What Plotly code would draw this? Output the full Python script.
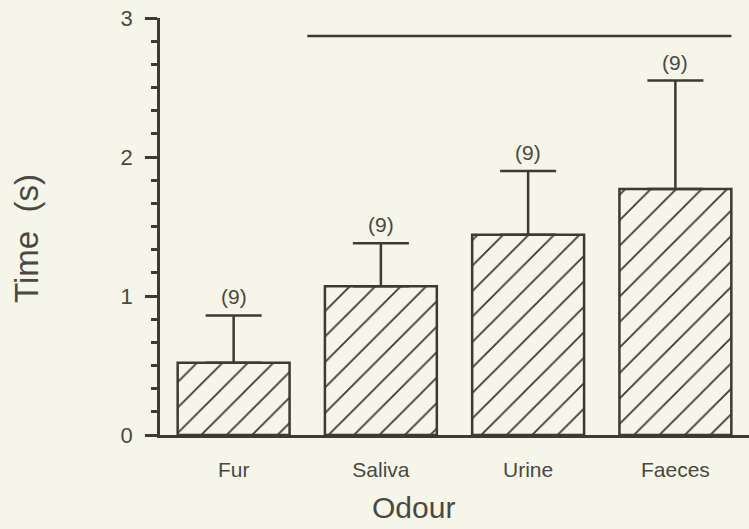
import plotly.graph_objects as go

categories = ["Fur", "Saliva", "Urine", "Faeces"]
means = [0.52, 1.07, 1.44, 1.77]
sem = [0.34, 0.31, 0.46, 0.78]
n_labels = ["(9)", "(9)", "(9)", "(9)"]
sig_line_x = [0.5, 3.38]
sig_line_y = [2.87, 2.87]
y_tickvals = [0, 1, 2, 3]

INK = "#3c3a35"
TXT = "#4a4843"
BG = "#f6f5e9"
FONT = "Liberation Sans"

fig = go.Figure()
fig.add_trace(go.Bar(
    x=list(range(len(categories))), y=means, width=0.76,
    marker=dict(color=BG, line=dict(color=INK, width=2.5),
                pattern=dict(shape="/", fgcolor=INK, bgcolor=BG, size=18,
                             solidity=0.1, fillmode="replace")),
    error_y=dict(type="data", symmetric=False, array=sem,
                 arrayminus=[0] * len(sem), color=INK, thickness=2.5, width=28),
    showlegend=False, hoverinfo="skip",
))
fig.add_trace(go.Scatter(x=sig_line_x, y=sig_line_y, mode="lines",
                         line=dict(color=INK, width=2.5), showlegend=False,
                         cliponaxis=False, hoverinfo="skip"))

for i, (m, e, t) in enumerate(zip(means, sem, n_labels)):
    fig.add_annotation(x=i, y=m + e, text=t, showarrow=False, yanchor="bottom",
                       yshift=5, font=dict(family=FONT, size=21, color=TXT))

fig.add_annotation(xref="paper", yref="paper", x=-0.2275, y=0.47, text="Time  (s)",
                   textangle=-90, showarrow=False, xanchor="center", yanchor="middle",
                   font=dict(family=FONT, size=33, color=TXT))
fig.add_annotation(xref="paper", yref="paper", x=0.431, y=-0.175, text="Odour",
                   showarrow=False, xanchor="center", yanchor="middle",
                   font=dict(family=FONT, size=30, color=TXT))

fig.update_xaxes(range=[-0.5, 3.5], tickvals=list(range(len(categories))),
                 ticktext=categories, ticks="", showgrid=False, zeroline=False,
                 showline=True, linecolor=INK, linewidth=2.5,
                 tickfont=dict(family=FONT, size=21, color=TXT),
                 ticklabelstandoff=14)
fig.update_yaxes(range=[0, 3], tickvals=y_tickvals, ticks="outside", ticklen=12,
                 tickwidth=2.5, tickcolor=INK, showgrid=False, zeroline=False,
                 showline=True, linecolor=INK, linewidth=2.5,
                 tickfont=dict(family=FONT, size=22, color=TXT),
                 ticklabelstandoff=8,
                 minor=dict(dtick=1/6, ticks="outside", ticklen=6, tickwidth=2.5,
                            tickcolor=INK, showgrid=False))

fig.update_layout(width=749, height=529, paper_bgcolor=BG, plot_bgcolor=BG,
                  margin=dict(l=160, r=0, t=18, b=94), bargap=0.24)
fig.write_html("out.html", config={"displayModeBar": False},
               post_script="document.body.style.margin='0';"
                           "document.body.style.overflow='hidden';"
                           "document.body.style.background='" + BG + "';")
